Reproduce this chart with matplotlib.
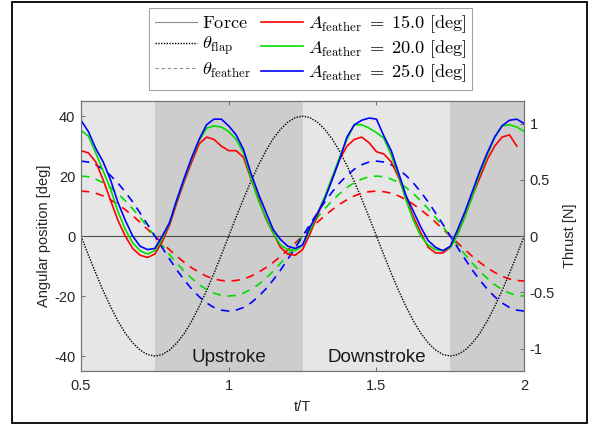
import numpy as np
import matplotlib
matplotlib.use('Agg')
import matplotlib.pyplot as plt
from matplotlib.patches import Rectangle

plt.rcParams['font.family'] = ['Liberation Sans', 'DejaVu Sans']
plt.rcParams['mathtext.fontset'] = 'cm'
plt.rcParams['axes.unicode_minus'] = False

# time grid, t/T
t = [0.5 + 0.025 * i for i in range(61)]

# flapping angle [deg]
theta_flap = [0.0, -6.3, -12.4, -18.2, -23.5, -28.3, -32.4, -35.6, -38.0, -39.5, -40.0,
              -39.5, -38.0, -35.6, -32.4, -28.3, -23.5, -18.2, -12.4, -6.3, 0.0,
              6.3, 12.4, 18.2, 23.5, 28.3, 32.4, 35.6, 38.0, 39.5, 40.0,
              39.5, 38.0, 35.6, 32.4, 28.3, 23.5, 18.2, 12.4, 6.3, 0.0,
              -6.3, -12.4, -18.2, -23.5, -28.3, -32.4, -35.6, -38.0, -39.5, -40.0,
              -39.5, -38.0, -35.6, -32.4, -28.3, -23.5, -18.2, -12.4, -6.3, 0.0]

# feathering angle [deg], one list per amplitude
feather_15 = [15.0, 14.8, 14.3, 13.4, 12.1, 10.6, 8.8, 6.8, 4.6, 2.3, 0.0,
              -2.3, -4.6, -6.8, -8.8, -10.6, -12.1, -13.4, -14.3, -14.8, -15.0,
              -14.8, -14.3, -13.4, -12.1, -10.6, -8.8, -6.8, -4.6, -2.3, 0.0,
              2.3, 4.6, 6.8, 8.8, 10.6, 12.1, 13.4, 14.3, 14.8, 15.0,
              14.8, 14.3, 13.4, 12.1, 10.6, 8.8, 6.8, 4.6, 2.3, 0.0,
              -2.3, -4.6, -6.8, -8.8, -10.6, -12.1, -13.4, -14.3, -14.8, -15.0]
feather_20 = [20.0, 19.8, 19.0, 17.8, 16.2, 14.1, 11.8, 9.1, 6.2, 3.1, 0.0,
              -3.1, -6.2, -9.1, -11.8, -14.1, -16.2, -17.8, -19.0, -19.8, -20.0,
              -19.8, -19.0, -17.8, -16.2, -14.1, -11.8, -9.1, -6.2, -3.1, 0.0,
              3.1, 6.2, 9.1, 11.8, 14.1, 16.2, 17.8, 19.0, 19.8, 20.0,
              19.8, 19.0, 17.8, 16.2, 14.1, 11.8, 9.1, 6.2, 3.1, 0.0,
              -3.1, -6.2, -9.1, -11.8, -14.1, -16.2, -17.8, -19.0, -19.8, -20.0]
feather_25 = [25.0, 24.7, 23.8, 22.3, 20.2, 17.7, 14.7, 11.4, 7.7, 3.9, 0.0,
              -3.9, -7.7, -11.4, -14.7, -17.7, -20.2, -22.3, -23.8, -24.7, -25.0,
              -24.7, -23.8, -22.3, -20.2, -17.7, -14.7, -11.4, -7.7, -3.9, 0.0,
              3.9, 7.7, 11.4, 14.7, 17.7, 20.2, 22.3, 23.8, 24.7, 25.0,
              24.7, 23.8, 22.3, 20.2, 17.7, 14.7, 11.4, 7.7, 3.9, 0.0,
              -3.9, -7.7, -11.4, -14.7, -17.7, -20.2, -22.3, -23.8, -24.7, -25.0]

# measured thrust [N]
thrust_15 = [0.76, 0.74, 0.66, 0.50, 0.32, 0.14, 0.00, -0.11, -0.17, -0.19, -0.16,
             -0.05, 0.10, 0.30, 0.49, 0.66, 0.82, 0.88, 0.86, 0.80, 0.76,
             0.76, 0.70, 0.51, 0.34, 0.16, 0.03, -0.10, -0.16, -0.17, -0.12,
             0.02, 0.18, 0.34, 0.52, 0.68, 0.80, 0.86, 0.88, 0.83, 0.75,
             0.73, 0.66, 0.52, 0.34, 0.17, 0.03, -0.10, -0.15, -0.15, -0.10,
             0.02, 0.18, 0.36, 0.52, 0.68, 0.80, 0.88, 0.90, 0.80, np.nan]
thrust_20 = [0.94, 0.89, 0.74, 0.58, 0.42, 0.22, 0.06, -0.06, -0.13, -0.16, -0.13,
             -0.02, 0.12, 0.32, 0.51, 0.69, 0.85, 0.96, 0.98, 0.97, 0.93,
             0.86, 0.74, 0.52, 0.32, 0.17, 0.03, -0.08, -0.12, -0.13, -0.08,
             0.05, 0.20, 0.35, 0.52, 0.70, 0.86, 0.99, 0.99, 0.96, 0.92,
             0.87, 0.72, 0.54, 0.32, 0.14, 0.00, -0.08, -0.12, -0.13, -0.10,
             0.02, 0.18, 0.36, 0.56, 0.72, 0.88, 0.98, 0.99, 0.97, 0.93]
thrust_25 = [1.03, 0.93, 0.78, 0.66, 0.50, 0.30, 0.14, 0.00, -0.09, -0.12, -0.11,
             0.00, 0.12, 0.33, 0.52, 0.70, 0.86, 0.99, 1.04, 1.04, 0.98,
             0.90, 0.77, 0.56, 0.38, 0.22, 0.06, -0.03, -0.09, -0.11, -0.08,
             0.08, 0.20, 0.33, 0.50, 0.68, 0.88, 0.99, 1.03, 1.05, 1.04,
             0.89, 0.76, 0.56, 0.36, 0.22, 0.08, -0.04, -0.10, -0.13, -0.09,
             0.06, 0.22, 0.40, 0.58, 0.74, 0.88, 0.98, 1.03, 1.04, 1.00]

amplitudes = ['15.0', '20.0', '25.0']
colors = ['#ff0000', '#00dd00', '#0000ff']

fig = plt.figure(figsize=(5.91, 4.25), dpi=100)
ax = fig.add_axes([0.137, 0.127, 0.750, 0.635])
ax2 = ax.twinx()

# stroke phases
ax.axvspan(0.5, 0.75, color='#e6e6e6', lw=0, zorder=0)
ax.axvspan(0.75, 1.25, color='#cdcdcd', lw=0, zorder=0)
ax.axvspan(1.25, 1.75, color='#e6e6e6', lw=0, zorder=0)
ax.axvspan(1.75, 2.0, color='#cdcdcd', lw=0, zorder=0)
ax.axhline(0, color='0.3', lw=0.8, zorder=1)

h_force, = ax.plot([], [], color='0.55', lw=0.8, label=r'$\mathrm{Force}$')
h_flap, = ax.plot(t, theta_flap, color='black', lw=1.0, ls=(0, (1, 1)),
                  label=r'$\theta_{\mathrm{flap}}$')
h_feath, = ax.plot([], [], color='0.55', lw=0.8, ls=(0, (3, 2.5)),
                   label=r'$\theta_{\mathrm{feather}}$')

for f, c in zip([feather_15, feather_20, feather_25], colors):
    ax.plot(t, f, color=c, lw=1.2, ls=(0, (5, 4)))

hs = []
for th, c, a in zip([thrust_15, thrust_20, thrust_25], colors, amplitudes):
    h, = ax2.plot(t, th, color=c, lw=1.2,
                  label=r'$A_{\mathrm{feather}}\;=\;' + a + r'\ \mathrm{[deg]}$')
    hs.append(h)

ax.text(1.0, -40.5, 'Upstroke', ha='center', va='center', fontsize=13.5, color='0.1')
ax.text(1.5, -40.5, 'Downstroke', ha='center', va='center', fontsize=13.5, color='0.1')

ax.set_xlim(0.5, 2.0)
ax.set_ylim(-45, 45)
ax2.set_ylim(-1.2, 1.2)
ax.set_xticks([0.5, 1.0, 1.5, 2.0])
ax.set_xticklabels(['0.5', '1', '1.5', '2'])
ax.set_yticks([-40, -20, 0, 20, 40])
ax2.set_yticks([-1, -0.5, 0, 0.5, 1])
ax2.set_yticklabels(['-1', '-0.5', '0', '0.5', '1'])

for a in (ax, ax2):
    for s in a.spines.values():
        s.set_color('0.45')
        s.set_linewidth(0.8)
    a.tick_params(direction='in', length=3, width=0.6, color='0.35',
                  labelsize=10.5, labelcolor='0.15')
ax.tick_params(axis='x', top=True, pad=6)
ax.tick_params(axis='y', pad=4)
ax2.tick_params(axis='y', pad=4)

ax.set_xlabel('t/T', fontsize=10.5, color='0.15', labelpad=5)
ax.set_ylabel('Angular position [deg]', fontsize=10.5, color='0.15', labelpad=2)
ax2.set_ylabel('Thrust [N]', fontsize=10.5, color='0.15', labelpad=6)

leg = fig.legend([h_force, h_flap, h_feath] + hs,
                 [h.get_label() for h in [h_force, h_flap, h_feath] + hs],
                 ncol=2, loc='upper center', bbox_to_anchor=(0.526, 0.982),
                 fontsize=13.2, frameon=True, fancybox=False, edgecolor='0.55',
                 handlelength=2.3, handletextpad=0.3, columnspacing=0.5,
                 labelspacing=0.16, borderpad=0.3, borderaxespad=0)
leg.get_frame().set_linewidth(0.8)

# outer frame round the figure
fig.patches.append(Rectangle((0.021, 0.005), 0.972, 0.99, transform=fig.transFigure,
                             fill=False, edgecolor='black', lw=1.3))

fig.savefig('out.png', dpi=100)
